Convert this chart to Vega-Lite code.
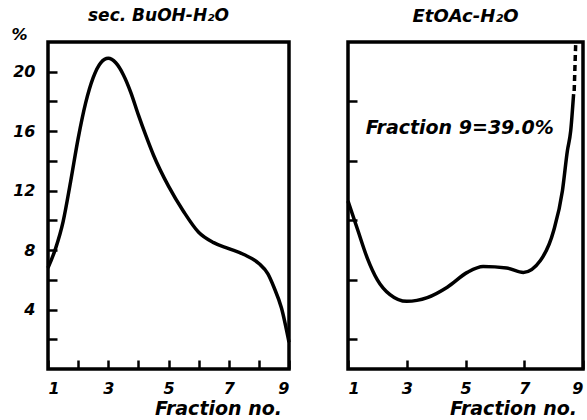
{
  "$schema": "https://vega.github.io/schema/vega-lite/v6.json",
  "background": "white",
  "padding": {"left": 9, "top": 5, "right": 0, "bottom": 0},
  "spacing": 41,
  "datasets": {
    "left": [
      {"fraction": 1, "pct": 6.8}, {"fraction": 1.25, "pct": 8.1}, {"fraction": 1.5, "pct": 9.9},
      {"fraction": 1.75, "pct": 12.6}, {"fraction": 2, "pct": 15.5}, {"fraction": 2.25, "pct": 17.9},
      {"fraction": 2.5, "pct": 19.6}, {"fraction": 2.75, "pct": 20.6}, {"fraction": 3, "pct": 20.9},
      {"fraction": 3.25, "pct": 20.6}, {"fraction": 3.5, "pct": 19.8}, {"fraction": 3.75, "pct": 18.6},
      {"fraction": 4, "pct": 17.1}, {"fraction": 4.25, "pct": 15.7}, {"fraction": 4.5, "pct": 14.4},
      {"fraction": 5, "pct": 12.3}, {"fraction": 5.5, "pct": 10.6}, {"fraction": 6, "pct": 9.2},
      {"fraction": 6.5, "pct": 8.5}, {"fraction": 7, "pct": 8.1}, {"fraction": 7.5, "pct": 7.7},
      {"fraction": 8, "pct": 7.1}, {"fraction": 8.3, "pct": 6.4}, {"fraction": 8.5, "pct": 5.5},
      {"fraction": 8.75, "pct": 4.1}, {"fraction": 9, "pct": 1.8}
    ],
    "right": [
      {"fraction": 1, "pct": 11.3}, {"fraction": 1.34, "pct": 9.3}, {"fraction": 1.65, "pct": 7.5},
      {"fraction": 2, "pct": 6.0}, {"fraction": 2.43, "pct": 5.0}, {"fraction": 3, "pct": 4.55},
      {"fraction": 3.7, "pct": 4.8}, {"fraction": 4.38, "pct": 5.5}, {"fraction": 5.06, "pct": 6.5},
      {"fraction": 5.6, "pct": 6.9}, {"fraction": 6.4, "pct": 6.8}, {"fraction": 6.97, "pct": 6.5},
      {"fraction": 7.55, "pct": 7.3}, {"fraction": 8, "pct": 9.3}, {"fraction": 8.3, "pct": 12},
      {"fraction": 8.47, "pct": 14.7}, {"fraction": 8.58, "pct": 16}, {"fraction": 8.68, "pct": 18.5}
    ],
    "rightDash": [
      {"fraction": 8.7, "pct": 18.7}, {"fraction": 8.75, "pct": 21.8}
    ],
    "note": [
      {"fraction": 1.6, "pct": 16.2, "label": "Fraction 9=39.0%"}
    ]
  },
  "config": {
    "view": {"stroke": "black", "strokeWidth": 3.5},
    "font": "DejaVu Sans",
    "axis": {
      "domain": false,
      "grid": false,
      "tickColor": "black",
      "tickWidth": 2.5,
      "tickSize": -9,
      "labelFont": "DejaVu Sans",
      "labelFontStyle": "italic",
      "labelFontWeight": "bold",
      "labelFontSize": 16,
      "labelColor": "black",
      "titleFont": "DejaVu Sans",
      "titleFontStyle": "italic",
      "titleFontWeight": "bold",
      "titleFontSize": 19,
      "titleColor": "black"
    },
    "title": {"font": "DejaVu Sans", "fontStyle": "italic", "fontWeight": "bold", "fontSize": 17, "color": "black"}
  },
  "hconcat": [
    {
      "width": 241,
      "height": 327,
      "title": {"text": "sec. BuOH-H₂O", "offset": 0, "dx": -10, "dy": -1},
      "data": {"name": "left"},
      "mark": {"type": "line", "interpolate": "monotone", "color": "black", "strokeWidth": 3.5},
      "encoding": {
        "x": {
          "field": "fraction", "type": "quantitative",
          "scale": {"domain": [1, 9], "nice": false, "zero": false},
          "axis": {
            "values": [1, 2, 3, 4, 5, 6, 7, 8, 9],
            "labelExpr": "datum.value % 2 == 1 ? datum.label : ''",
            "labelPadding": 20,
            "title": "Fraction no.",
            "titleX": 170,
            "titleAlign": "center",
            "titlePadding": 3
          }
        },
        "y": {
          "field": "pct", "type": "quantitative",
          "scale": {"domain": [0, 22], "nice": false},
          "axis": {
            "values": [2, 4, 6, 8, 10, 12, 14, 16, 18, 20],
            "labelExpr": "datum.value % 4 == 0 ? datum.label : ''",
            "labelPadding": 22,
            "title": "%",
            "titleFontSize": 16,
            "titleAngle": 0,
            "titleX": -29,
            "titleY": -8,
            "titleAlign": "center",
            "titleBaseline": "middle"
          }
        }
      }
    },
    {
      "width": 235,
      "height": 327,
      "title": {"text": "EtOAc-H₂O", "offset": 11, "dy": -1, "fontSize": 18},
      "layer": [
        {
          "data": {"name": "right"},
          "mark": {"type": "line", "interpolate": "monotone", "color": "black", "strokeWidth": 3.5},
          "encoding": {
            "x": {
              "field": "fraction", "type": "quantitative",
              "scale": {"domain": [1, 9], "nice": false, "zero": false},
              "axis": {
                "values": [1, 2, 3, 4, 5, 6, 7, 8, 9],
                "labelExpr": "datum.value % 2 == 1 ? datum.label : ''",
                "labelPadding": 20,
                "title": "Fraction no.",
                "titleX": 165,
                "titleAlign": "center",
                "titlePadding": 3
              }
            },
            "y": {
              "field": "pct", "type": "quantitative",
              "scale": {"domain": [0, 22], "nice": false},
              "axis": {
                "values": [2, 4, 6, 8, 10, 12, 14, 16, 18, 20],
                "labels": false,
                "title": null
              }
            }
          }
        },
        {
          "data": {"name": "rightDash"},
          "mark": {"type": "line", "color": "black", "strokeWidth": 3.5, "strokeDash": [6, 4]},
          "encoding": {
            "x": {"field": "fraction", "type": "quantitative"},
            "y": {"field": "pct", "type": "quantitative"}
          }
        },
        {
          "data": {"name": "note"},
          "mark": {"type": "text", "align": "left", "baseline": "middle", "fontSize": 19, "fontStyle": "italic", "fontWeight": "bold", "font": "DejaVu Sans", "color": "black"},
          "encoding": {
            "x": {"field": "fraction", "type": "quantitative"},
            "y": {"field": "pct", "type": "quantitative"},
            "text": {"field": "label"}
          }
        }
      ]
    }
  ]
}
